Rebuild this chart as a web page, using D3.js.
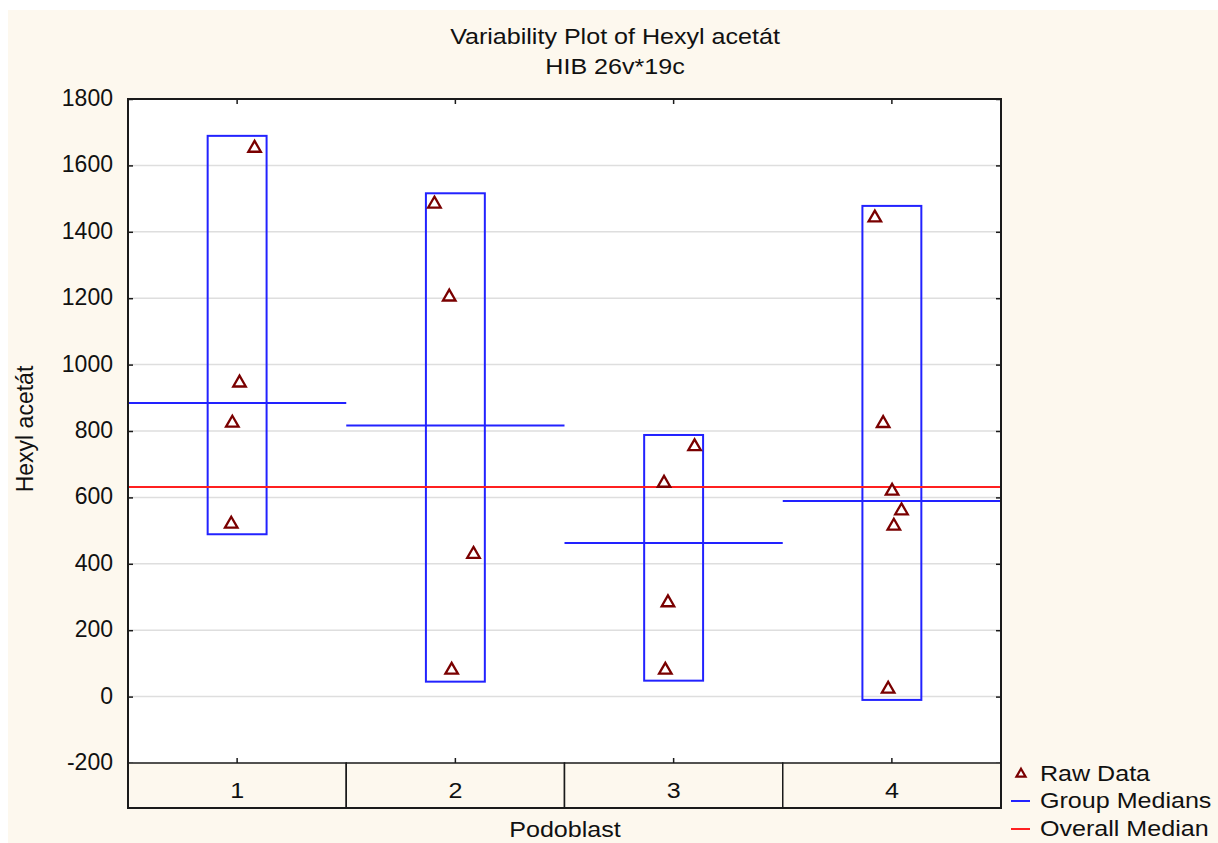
<!DOCTYPE html>
<html>
<head>
<meta charset="utf-8">
<script src="https://cdn.jsdelivr.net/npm/d3@7"></script>
<style>
  body { margin: 0; background: #fff; }
  svg text { font-family: "Liberation Sans", Arial, sans-serif; fill: #111; }
</style>
</head>
<body>
<svg id="chart" width="1218" height="843"></svg>
<script>
const svg = d3.select('#chart');

// categories (Podoblast)
const groups = ['1', '2', '3', '4'];
// raw data per group
const rawValues = [
  [1652, 945, 824, 520],
  [1484, 1204, 429, 80],
  [753, 643, 283, 80],
  [1442, 823, 619, 560, 514, 23]
];
// horizontal jitter of the raw points (fraction of the band)
const rawJitter = [
  [0.080, 0.011, -0.022, -0.027],
  [-0.096, -0.028, 0.083, -0.017],
  [0.096, -0.044, -0.026, -0.038],
  [-0.078, -0.040, 0.001, 0.044, 0.009, -0.017]
];
// range boxes as drawn
const boxLow = [489, 45, 48, -10];
const boxHigh = [1689, 1516, 788, 1478];
const yTicks = [-200, 0, 200, 400, 600, 800, 1000, 1200, 1400, 1600, 1800];

const legendItems = ['Raw Data', 'Group Medians', 'Overall Median'];

const margin = { top: 99, left: 128 };
const plotRight = 1001, plotBottom = 763, bandBottom = 808;

const x = d3.scaleBand().domain(groups).range([margin.left, plotRight]);
const y = d3.scaleLinear().domain([-200, 1800]).range([plotBottom, margin.top]);

const blue = '#2222ff', red = '#ff2020', dark = '#7a0000', ink = '#1a1a1a';
const stretch = 1.14;

// panel background
svg.append('rect').attr('x', 8).attr('y', 10).attr('width', 1210).attr('height', 833)
  .attr('fill', '#fdf8ee');
svg.append('rect').attr('x', margin.left).attr('y', margin.top)
  .attr('width', plotRight - margin.left).attr('height', plotBottom - margin.top)
  .attr('fill', '#fff');

// grid lines
svg.append('g').selectAll('line').data(yTicks.slice(1, -1)).enter().append('line')
  .attr('x1', margin.left).attr('x2', plotRight)
  .attr('y1', d => y(d)).attr('y2', d => y(d))
  .attr('stroke', '#dedede').attr('stroke-width', 1.5);

// y axis (left) with inward ticks
const yAxis = svg.append('g').attr('transform', `translate(${margin.left},0)`)
  .call(d3.axisRight(y).tickValues(yTicks).tickSize(5).tickFormat(''));
yAxis.select('.domain').remove();
yAxis.selectAll('line').attr('stroke', ink).attr('stroke-width', 1.5);
svg.append('g').selectAll('text').data(yTicks).enter().append('text')
  .attr('x', 113).attr('y', d => y(d)).attr('dy', '0.3em')
  .attr('text-anchor', 'end').attr('font-size', 23).text(d => d);

// right axis ticks
const yAxisR = svg.append('g').attr('transform', `translate(${plotRight},0)`)
  .call(d3.axisLeft(y).tickValues(yTicks).tickSize(5).tickFormat(''));
yAxisR.select('.domain').remove();
yAxisR.selectAll('line').attr('stroke', ink).attr('stroke-width', 1.5);

// top and bottom ticks at category centers
const xTop = svg.append('g').attr('transform', `translate(0,${margin.top})`)
  .call(d3.axisBottom(x).tickSize(5).tickFormat(''));
xTop.select('.domain').remove();
xTop.selectAll('line').attr('stroke', ink).attr('stroke-width', 1.5);
const xBot = svg.append('g').attr('transform', `translate(0,${plotBottom})`)
  .call(d3.axisTop(x).tickSize(5).tickFormat(''));
xBot.select('.domain').remove();
xBot.selectAll('line').attr('stroke', ink).attr('stroke-width', 1.5);

// category band cells
const cells = svg.append('g');
cells.selectAll('rect').data(groups).enter().append('rect')
  .attr('x', d => x(d)).attr('y', plotBottom)
  .attr('width', x.bandwidth()).attr('height', bandBottom - plotBottom)
  .attr('fill', '#fdf8ee').attr('stroke', ink).attr('stroke-width', 1.5);
cells.selectAll('text').data(groups).enter().append('text')
  .attr('transform', d => `translate(${x(d) + x.bandwidth() / 2},798) scale(${stretch},1)`)
  .attr('text-anchor', 'middle').attr('font-size', 22).text(d => d);

// overall median
const overall = d3.median(rawValues.flat());

// range boxes
const boxW = x.bandwidth() * 0.27;
svg.append('g').selectAll('rect').data(groups).enter().append('rect')
  .attr('x', d => x(d) + x.bandwidth() / 2 - boxW / 2)
  .attr('y', (d, i) => y(boxHigh[i]))
  .attr('width', boxW)
  .attr('height', (d, i) => y(boxLow[i]) - y(boxHigh[i]))
  .attr('fill', 'none').attr('stroke', blue).attr('stroke-width', 2);

// group medians
svg.append('g').selectAll('line').data(groups).enter().append('line')
  .attr('x1', d => x(d)).attr('x2', d => x(d) + x.bandwidth())
  .attr('y1', (d, i) => y(d3.median(rawValues[i])))
  .attr('y2', (d, i) => y(d3.median(rawValues[i])))
  .attr('stroke', blue).attr('stroke-width', 2);

// overall median line
svg.append('line')
  .attr('x1', margin.left).attr('x2', plotRight)
  .attr('y1', y(overall)).attr('y2', y(overall))
  .attr('stroke', red).attr('stroke-width', 2);

// raw points
const tri = d3.symbol(d3.symbolTriangle, 68);
const points = [];
groups.forEach((g, i) => rawValues[i].forEach((v, j) => points.push({ g, v, jit: rawJitter[i][j] })));
svg.append('g').selectAll('path').data(points).enter().append('path')
  .attr('d', tri)
  .attr('transform', d => `translate(${x(d.g) + x.bandwidth() / 2 + d.jit * x.bandwidth()},${y(d.v)})`)
  .attr('fill', '#fff').attr('stroke', dark).attr('stroke-width', 2.3);

// plot frame
svg.append('rect').attr('x', margin.left).attr('y', margin.top)
  .attr('width', plotRight - margin.left).attr('height', bandBottom - margin.top)
  .attr('fill', 'none').attr('stroke', ink).attr('stroke-width', 2);

// titles
svg.append('text').attr('transform', `translate(615,44) scale(${stretch},1)`)
  .attr('text-anchor', 'middle').attr('font-size', 22).text('Variability Plot of Hexyl acetát');
svg.append('text').attr('transform', `translate(615,74) scale(${stretch},1)`)
  .attr('text-anchor', 'middle').attr('font-size', 22).text('HIB 26v*19c');
svg.append('text').attr('transform', `translate(565,837) scale(${stretch},1)`)
  .attr('text-anchor', 'middle').attr('font-size', 22).text('Podoblast');
svg.append('text').attr('transform', 'translate(33,429) rotate(-90)')
  .attr('text-anchor', 'middle').attr('font-size', 23).text('Hexyl acetát');

// legend
const legend = svg.append('g');
const rowY = [774, 801, 829];
legend.append('path').attr('d', d3.symbol(d3.symbolTriangle, 36))
  .attr('transform', `translate(1021,${rowY[0]})`)
  .attr('fill', '#fff').attr('stroke', dark).attr('stroke-width', 2.2);
legend.append('line').attr('x1', 1011).attr('x2', 1030).attr('y1', rowY[1]).attr('y2', rowY[1])
  .attr('stroke', blue).attr('stroke-width', 2);
legend.append('line').attr('x1', 1011).attr('x2', 1030).attr('y1', rowY[2]).attr('y2', rowY[2])
  .attr('stroke', red).attr('stroke-width', 2);
legend.selectAll('text').data(legendItems).enter().append('text')
  .attr('transform', (d, i) => `translate(1040,${rowY[i] + 7}) scale(${stretch},1)`)
  .attr('font-size', 22).text(d => d);
</script>
</body>
</html>
